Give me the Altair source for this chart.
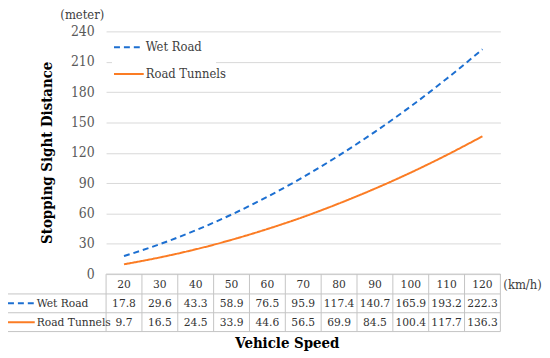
import altair as alt
import pandas as pd

speeds = [20, 30, 40, 50, 60, 70, 80, 90, 100, 110, 120]
wet_road = [17.8, 29.6, 43.3, 58.9, 76.5, 95.9, 117.4, 140.7, 165.9, 193.2, 222.3]
road_tunnels = [9.7, 16.5, 24.5, 33.9, 44.6, 56.5, 69.9, 84.5, 100.4, 117.7, 136.3]
series_names = ["Wet Road", "Road Tunnels"]
y_ticks = [0, 30, 60, 90, 120, 150, 180, 210, 240]

colors = ["#1c6fd1", "#fb7c24"]
dashes = [[6, 4], [1, 0]]
FONT = "'DejaVu Serif Condensed', 'DejaVu Serif', serif"
W, H = 398, 245

rows = []
for name, vals in zip(series_names, [wet_road, road_tunnels]):
    for s, v in zip(speeds, vals):
        rows.append({"speed": s, "dist": v, "series": name})
df = pd.DataFrame(rows)

xscale = alt.Scale(domain=[speeds[0] - 5, speeds[-1] + 5], nice=False, zero=False)
yscale = alt.Scale(domain=[y_ticks[0], y_ticks[-1]], nice=False)

base = alt.Chart(df)

lines = base.mark_line(strokeWidth=2, interpolate="monotone").encode(
    x=alt.X("speed:Q", scale=xscale, axis=None),
    y=alt.Y("dist:Q", scale=yscale,
            axis=alt.Axis(values=y_ticks, grid=True, domain=False, ticks=False,
                          labelFont=FONT, labelFontSize=14, labelColor="#595959",
                          labelPadding=12, gridColor="#d9d9d9", title=None)),
    color=alt.Color("series:N", scale=alt.Scale(domain=series_names, range=colors), legend=None),
    strokeDash=alt.StrokeDash("series:N", scale=alt.Scale(domain=series_names, range=dashes), legend=None),
)

one = alt.Data(values=[{"a": 1}])

# legend inside plot
legend_box = alt.Chart(one).mark_rect(color="white").encode(
    x=alt.value(6), x2=alt.value(111), y=alt.value(5), y2=alt.value(55))
legend_layers = [legend_box]
for i, name in enumerate(series_names):
    ly = 16 + 27 * i
    legend_layers.append(alt.Chart(one).mark_rule(color=colors[i], strokeWidth=2, strokeDash=dashes[i]).encode(
        x=alt.value(8), x2=alt.value(38), y=alt.value(ly)))
    legend_layers.append(alt.Chart(one).mark_text(text=name, align="left", baseline="middle",
                                                  font=FONT, fontSize=13, color="#404040").encode(
        x=alt.value(40), y=alt.value(ly)))

# table
grid_col = "#c4c4c4"
bounds = pd.DataFrame({"b": [s - 5 for s in speeds] + [speeds[-1] + 5]})
vlines = alt.Chart(bounds).mark_rule(color=grid_col, strokeWidth=1).encode(
    x=alt.X("b:Q", scale=xscale), y=alt.value(245), y2=alt.value(303))
left_v = alt.Chart(one).mark_rule(color=grid_col, strokeWidth=1).encode(
    x=alt.value(-102), y=alt.value(265), y2=alt.value(303))
hl = [alt.Chart(one).mark_rule(color=grid_col, strokeWidth=1).encode(
    x=alt.value(0), x2=alt.value(W), y=alt.value(245))]
for yy in [265, 284, 303]:
    hl.append(alt.Chart(one).mark_rule(color=grid_col, strokeWidth=1).encode(
        x=alt.value(-102), x2=alt.value(W), y=alt.value(yy)))

header = alt.Chart(pd.DataFrame({"speed": speeds})).mark_text(
    font=FONT, fontSize=12, color="#333333", baseline="middle").encode(
    x=alt.X("speed:Q", scale=xscale), y=alt.value(255), text=alt.Text("speed:Q", format="d"))

table_rows = []
for i, name in enumerate(series_names):
    ry = 274.5 + 19 * i
    table_rows.append(base.transform_filter(alt.datum.series == name).mark_text(
        font=FONT, fontSize=12, color="#333333", baseline="middle").encode(
        x=alt.X("speed:Q", scale=xscale), y=alt.value(ry), text=alt.Text("dist:Q", format=".1f")))
    table_rows.append(alt.Chart(one).mark_rule(color=colors[i], strokeWidth=2, strokeDash=dashes[i]).encode(
        x=alt.value(-99), x2=alt.value(-72), y=alt.value(ry)))
    table_rows.append(alt.Chart(one).mark_text(text=name, align="left", baseline="middle",
                                               font=FONT, fontSize=12, color="#333333").encode(
        x=alt.value(-70), y=alt.value(ry)))

# titles
ytitle = alt.Chart(one).mark_text(text="Stopping Sight Distance", angle=270, align="center",
                                  baseline="middle", font=FONT, fontSize=15, fontWeight="bold",
                                  color="#000000").encode(x=alt.value(-60), y=alt.value(H / 2))
meter = alt.Chart(one).mark_text(text="(meter)", align="center", baseline="middle",
                                 font=FONT, fontSize=13, color="#404040").encode(
    x=alt.value(-24), y=alt.value(-17))
kmh = alt.Chart(one).mark_text(text="(km/h)", align="left", baseline="middle",
                               font=FONT, fontSize=13, color="#404040").encode(
    x=alt.value(W + 3), y=alt.value(256))
xtitle = alt.Chart(one).mark_text(text="Vehicle Speed", align="center", baseline="middle",
                                  font=FONT, fontSize=15, fontWeight="bold", color="#000000").encode(
    x=alt.value(183), y=alt.value(315))

chart = alt.layer(
    lines, *legend_layers, vlines, left_v, *hl, header, *table_rows, ytitle, meter, kmh, xtitle
).properties(
    width=W, height=H,
    autosize=alt.AutoSizeParams(type="none"),
    padding={"left": 99, "top": 22, "right": 42, "bottom": 76},
).configure_view(stroke=None)

chart.save("out.html", embed_options={"renderer": "svg", "actions": False})
